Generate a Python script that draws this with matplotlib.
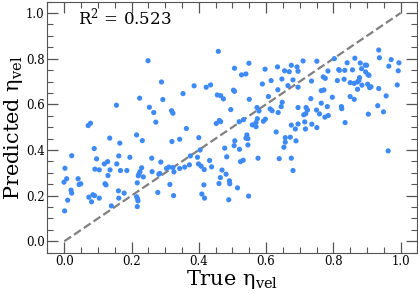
import numpy as np
import matplotlib
matplotlib.use("Agg")
from matplotlib import pyplot as plt
from matplotlib.ticker import AutoMinorLocator

# valores (true, predicted)
true_vel = [
    0.249, 0.289, 0.224, 0.293, 0.155, 0.253, 0.266, 0.319, 0.323, 0.272, 0.071, 0.078,
    0.458, 0.549, 0.506, 0.527, 0.540, 0.597, 0.634, 0.655, 0.675, 0.692, 0.669, 0.695,
    0.647, 0.680, 0.615, 0.589, 0.386, 0.422, 0.435, 0.353, 0.455, 0.465, 0.473, 0.503,
    0.506, 0.550, 0.607, 0.635, 0.665, 0.695, 0.495, 0.573, 0.579, 0.612, 0.618, 0.636,
    0.648, 0.645, 0.695, 0.461, 0.465, 0.452, 0.520, 0.533, 0.559, 0.570, 0.574, 0.598,
    0.592, 0.570, 0.363, 0.675, 0.695, 0.687,
    0.935, 0.937, 0.972, 0.995, 0.965, 0.993, 0.990, 0.935, 0.957, 0.932, 0.949, 0.904,
    0.864, 0.841, 0.880, 0.895, 0.899, 0.884, 0.803, 0.751, 0.710, 0.784, 0.816, 0.818,
    0.834, 0.857, 0.896, 0.903, 0.906, 0.832, 0.812, 0.850, 0.862, 0.878, 0.876, 0.872,
    0.885, 0.902, 0.908, 0.912, 0.872, 0.735, 0.770, 0.776, 0.764, 0.772, 0.733, 0.797,
    0.850, 0.862, 0.824, 0.825, 0.835, 0.719, 0.723, 0.718, 0.712, 0.750, 0.764, 0.782,
    0.759, 0.775, 0.785, 0.736, 0.715, 0.717, 0.751,
    -0.001, 0.007, 0.002, 0.022, 0.041, 0.044, 0.049, 0.020, 0.022, 0.010, 0.001, 0.089,
    0.096, 0.091, 0.104, 0.119, 0.129, 0.130, 0.136, 0.121, 0.124, 0.135, 0.165, 0.162,
    0.167, 0.156, 0.186, 0.195, 0.073, 0.085, 0.090, 0.081, 0.104, 0.161, 0.162, 0.178,
    0.140, 0.215, 0.232, 0.260, 0.261, 0.287, 0.217, 0.220, 0.222, 0.225, 0.230, 0.235,
    0.215, 0.218, 0.219, 0.217, 0.278, 0.281, 0.284, 0.304, 0.311, 0.323, 0.314, 0.326,
    0.320, 0.325,
    0.343, 0.400, 0.375, 0.396, 0.404, 0.432, 0.438, 0.399, 0.407, 0.416, 0.372, 0.358,
    0.343, 0.409, 0.417, 0.415, 0.460, 0.464, 0.469, 0.481, 0.491, 0.492, 0.489, 0.515,
    0.548, 0.477, 0.483, 0.505, 0.507, 0.521, 0.524, 0.532, 0.540, 0.543, 0.546, 0.546,
    0.576, 0.630, 0.639, 0.653, 0.657, 0.657, 0.675, 0.680, 0.689, 0.672, 0.963,
]
pred_vel = [
    0.791, 0.698, 0.627, 0.621, 0.596, 0.587, 0.564, 0.572, 0.561, 0.522, 0.507, 0.517,
    0.832, 0.780, 0.758, 0.729, 0.733, 0.754, 0.764, 0.747, 0.771, 0.764, 0.743, 0.745,
    0.711, 0.707, 0.704, 0.689, 0.681, 0.675, 0.685, 0.647, 0.641, 0.638, 0.624, 0.662,
    0.657, 0.622, 0.634, 0.664, 0.682, 0.675, 0.577, 0.586, 0.571, 0.580, 0.572, 0.564,
    0.609, 0.590, 0.586, 0.529, 0.524, 0.516, 0.524, 0.533, 0.510, 0.520, 0.537, 0.535,
    0.526, 0.502, 0.494, 0.509, 0.514, 0.492,
    0.838, 0.804, 0.796, 0.782, 0.767, 0.747, 0.685, 0.669, 0.637, 0.594, 0.567, 0.557,
    0.802, 0.782, 0.781, 0.772, 0.771, 0.756, 0.800, 0.789, 0.790, 0.746, 0.752, 0.749,
    0.749, 0.751, 0.742, 0.730, 0.727, 0.710, 0.704, 0.695, 0.692, 0.717, 0.705, 0.698,
    0.684, 0.688, 0.673, 0.677, 0.666, 0.702, 0.720, 0.714, 0.660, 0.663, 0.625, 0.631,
    0.634, 0.622, 0.590, 0.581, 0.520, 0.586, 0.575, 0.559, 0.554, 0.575, 0.605, 0.590,
    0.558, 0.544, 0.551, 0.513, 0.523, 0.492, 0.498,
    0.259, 0.274, 0.320, 0.375, 0.274, 0.249, 0.252, 0.224, 0.211, 0.180, 0.133, 0.406,
    0.361, 0.316, 0.313, 0.339, 0.349, 0.288, 0.313, 0.252, 0.247, 0.452, 0.430, 0.374,
    0.310, 0.339, 0.310, 0.368, 0.193, 0.204, 0.200, 0.173, 0.189, 0.221, 0.189, 0.211,
    0.155, 0.466, 0.441, 0.364, 0.305, 0.347, 0.256, 0.287, 0.295, 0.305, 0.322, 0.282,
    0.195, 0.186, 0.177, 0.152, 0.214, 0.294, 0.297, 0.319, 0.325, 0.323, 0.249, 0.304,
    0.437, 0.200,
    0.447, 0.454, 0.374, 0.368, 0.400, 0.354, 0.326, 0.339, 0.329, 0.314, 0.335, 0.325,
    0.319, 0.207, 0.189, 0.247, 0.253, 0.279, 0.312, 0.294, 0.265, 0.252, 0.182, 0.234,
    0.198, 0.408, 0.370, 0.419, 0.440, 0.403, 0.349, 0.355, 0.452, 0.466, 0.450, 0.422,
    0.364, 0.479, 0.362, 0.412, 0.434, 0.454, 0.364, 0.310, 0.440, 0.456, 0.396,
]
r2_text = r"R$^2$ = 0.523"

plt.rcParams['font.family'] = 'DejaVu Serif'
plt.rcParams['mathtext.fontset'] = 'dejavuserif'

fig = plt.figure(figsize=(4.18, 2.94), dpi=100)
ax = fig.add_axes([0.1136, 0.1405, 0.885, 0.854])

ax.plot([0, 1], [0, 1], '--', color='#808080', lw=1.6, zorder=1)
ax.scatter(true_vel, pred_vel, s=14, color='#3d8af7', edgecolors='none', zorder=2)

ax.set_xlim(-0.05, 1.05)
ax.set_ylim(-0.05, 1.05)
ax.set_xticks([0.0, 0.2, 0.4, 0.6, 0.8, 1.0])
ax.set_yticks([0.0, 0.2, 0.4, 0.6, 0.8, 1.0])
ax.xaxis.set_minor_locator(AutoMinorLocator(4))
ax.yaxis.set_minor_locator(AutoMinorLocator(4))
ax.tick_params(which='both', direction='in', top=True, right=True,
               color='#555555', labelsize=8.5, pad=2)
ax.tick_params(which='major', length=8, width=0.9)
ax.tick_params(which='minor', length=4, width=0.8)
for sp in ax.spines.values():
    sp.set_color('#555555')

ax.set_xlabel("True η$_{\\rm vel}$", fontsize=15, labelpad=0)
ax.set_ylabel("Predicted η$_{\\rm vel}$", fontsize=15, labelpad=1)
ax.text(0.083, 0.935, r2_text, transform=ax.transAxes, fontsize=12, va='center')

fig.savefig("out.png", dpi=100)
